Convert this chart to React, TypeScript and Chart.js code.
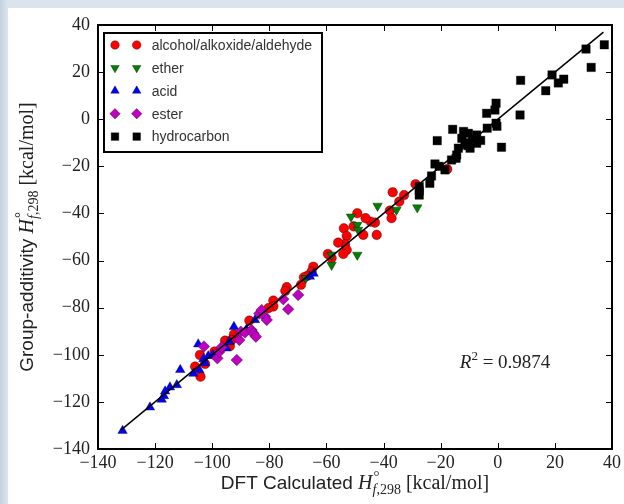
import React, { useEffect, useRef } from 'react';
import { Chart, registerables } from 'chart.js';

Chart.register(...registerables);

// ---------- data ----------
const SERIES_NAMES = ['alcohol/alkoxide/aldehyde', 'ether', 'acid', 'ester', 'hydrocarbon'];

const ALCOHOL_X = [-17.7, -28.8, -36.8, -32.8, -34.5, -37.8, -37.2, -42.4, -43.0, -44.5, -46.3, -49.2, -47.1, -50.5, -53.9, -52.9, -53.5, -55.9, -52.9, -54.1, -58.2, -59.5, -64.6, -65.2, -66.7, -67.9, -68.9, -73.9, -74.4, -78.6, -78.6, -80.3, -87.0, -92.4, -93.8, -95.5, -93.2, -99.2, -104.3, -102.5, -106.0, -104.1];
const ALCOHOL_Y = [-21.2, -27.6, -31.0, -32.2, -35.0, -38.8, -42.0, -49.1, -43.9, -43.5, -42.0, -39.9, -49.1, -45.5, -46.3, -49.6, -53.0, -52.4, -55.5, -57.2, -59.0, -57.2, -62.6, -64.7, -66.5, -67.1, -70.3, -71.3, -72.9, -77.0, -79.5, -80.2, -85.5, -91.3, -96.3, -94.0, -93.7, -98.6, -100.1, -103.9, -105.0, -109.3];

const ETHER_X = [-42.1, -35.5, -28.2, -51.4, -49.2, -48.9, -49.2, -58.2, -58.2, -67.2];
const ETHER_Y = [-36.8, -38.5, -37.5, -41.4, -44.9, -47.0, -57.6, -57.6, -61.9, -67.5];

const ACID_X = [-131.4, -121.8, -117.7, -116.9, -116.5, -114.8, -112.4, -111.2, -106.6, -104.5, -104.9, -103.1, -102.5, -101.4, -99.8, -95.0, -94.0, -92.4, -88.0, -85.0, -65.8, -64.5];
const ACID_Y = [-132.2, -122.3, -119.0, -117.5, -115.5, -113.8, -112.8, -106.4, -108.0, -106.5, -95.5, -101.8, -103.5, -100.5, -100.1, -97.2, -94.4, -88.1, -89.2, -85.2, -66.8, -65.5];

const ESTER_X = [-102.9, -98.2, -97.5, -96.7, -91.4, -90.5, -90.0, -88.5, -86.2, -85.6, -84.7, -83.5, -82.7, -81.5, -80.9, -75.1, -73.4, -69.9];
const ESTER_Y = [-96.5, -101.5, -98.7, -96.8, -102.2, -93.7, -90.2, -90.5, -89.5, -90.9, -92.3, -82.5, -81.0, -83.8, -85.2, -76.4, -80.7, -74.6];

const HYDRO_X = [30.9, 37.3, 32.7, 8.0, 16.8, 19.0, 21.2, 23.1, 7.8, -0.6, -1.0, -3.9, -0.6, -3.7, 1.3, -15.8, -21.2, -10.3, -12.6, -7.4, -7.4, -9.7, -13.8, -14.6, -16.2, -22.0, -18.5, -23.2, -23.8, -27.5, -27.5, -27.5, -14.4, -11.5, -8.8, -20.5, -6.0, -10.5, -12.0, -0.3];
const HYDRO_Y = [29.8, 31.6, 22.0, 16.5, 12.1, 18.8, 15.4, 17.0, 1.8, 6.8, 3.9, 2.5, -1.7, -3.8, -11.9, -4.3, -9.1, -6.0, -8.1, -6.7, -10.2, -12.3, -12.3, -16.6, -17.3, -19.0, -21.5, -24.1, -27.2, -28.6, -32.2, -30.4, -15.2, -10.0, -8.5, -20.0, -9.0, -11.2, -5.2, -3.0];

const FIT_X = [-132, 37];
const FIT_Y = [-132, 37];

const X_TICKS = [-140, -120, -100, -80, -60, -40, -20, 0, 20, 40];
const Y_TICKS = [-140, -120, -100, -80, -60, -40, -20, 0, 20, 40];

const R2_TEXT = '0.9874';
const R2_POS = [-13.3, -105.8];

// ---------- styles ----------
const COLORS = ['#ff0000', '#007f00', '#0000ff', '#bf00bf', '#000000'];
const STYLES = ['circle', 'triangleDown', 'triangle', 'rectRot', 'rect'];
const RADII = [4.8, 5.5, 5.5, 5.8, 6];

const SERIF = '"Liberation Serif", "DejaVu Serif", serif';
const SANS = '"Liberation Sans", Arial, sans-serif';

const W = 616;
const H = 496;

const fmt = (v: number) => (v < 0 ? '\u2212' + Math.abs(v) : String(v));
const pts = (xs: number[], ys: number[]) => xs.map((x, i) => ({ x, y: ys[i] }));

function drawMarker(ctx: CanvasRenderingContext2D, style: string, x: number, y: number, r: number, color: string) {
  ctx.beginPath();
  if (style === 'circle') {
    ctx.arc(x, y, r, 0, Math.PI * 2);
  } else if (style === 'triangle' || style === 'triangleDown') {
    const s = style === 'triangle' ? -1 : 1;
    for (let k = 0; k < 3; k++) {
      const a = (k * 2 * Math.PI) / 3;
      const px = x + Math.sin(a) * r;
      const py = y + s * Math.cos(a) * r;
      if (k === 0) ctx.moveTo(px, py); else ctx.lineTo(px, py);
    }
    ctx.closePath();
  } else if (style === 'rectRot') {
    ctx.moveTo(x, y - r); ctx.lineTo(x + r, y); ctx.lineTo(x, y + r); ctx.lineTo(x - r, y); ctx.closePath();
  } else {
    const h = r * Math.SQRT1_2;
    ctx.rect(x - h, y - h, 2 * h, 2 * h);
  }
  ctx.fillStyle = color;
  ctx.fill();
  ctx.lineWidth = 0.5;
  ctx.strokeStyle = 'rgba(0,0,0,0.7)';
  ctx.stroke();
}

type Run = { t: string; f: string; dy: number; adv?: boolean; dx?: number };

function runsWidth(ctx: CanvasRenderingContext2D, runs: Run[]) {
  let w = 0;
  for (const r of runs) { ctx.font = r.f; if (r.adv !== false) w += ctx.measureText(r.t).width; }
  return w;
}
function drawRuns(ctx: CanvasRenderingContext2D, runs: Run[], cx: number, baseY: number) {
  let x = cx - runsWidth(ctx, runs) / 2;
  ctx.textAlign = 'left';
  ctx.textBaseline = 'alphabetic';
  for (const r of runs) {
    ctx.font = r.f;
    ctx.fillText(r.t, x + (r.dx || 0), baseY + r.dy);
    if (r.adv !== false) x += ctx.measureText(r.t).width;
  }
}

const mathUnit = (): Run[] => [
  { t: 'H', f: `italic 20px ${SERIF}`, dy: 0 },
  { t: '\u00b0', f: `15px ${SERIF}`, dy: -8, adv: false, dx: 1 },
  { t: 'f', f: `italic 14px ${SERIF}`, dy: 5 },
  { t: ',298', f: `14px ${SERIF}`, dy: 5 },
  { t: ' [kcal/mol]', f: `20px ${SERIF}`, dy: 0 },
];

const decorPlugin = {
  id: 'decor',
  afterDatasetsDraw(chart: any) {
    const { ctx, chartArea: a, scales } = chart;
    const xs = scales.x, ys = scales.y;
    ctx.save();
    // inside ticks on all sides
    ctx.strokeStyle = '#000';
    ctx.lineWidth = 1;
    ctx.beginPath();
    for (const v of X_TICKS) {
      const px = Math.round(xs.getPixelForValue(v)) + 0.5;
      ctx.moveTo(px, a.bottom); ctx.lineTo(px, a.bottom - 6);
      ctx.moveTo(px, a.top); ctx.lineTo(px, a.top + 6);
    }
    for (const v of Y_TICKS) {
      const py = Math.round(ys.getPixelForValue(v)) + 0.5;
      ctx.moveTo(a.left, py); ctx.lineTo(a.left + 6, py);
      ctx.moveTo(a.right, py); ctx.lineTo(a.right - 6, py);
    }
    ctx.stroke();
    // frame
    ctx.lineWidth = 2;
    ctx.strokeRect(a.left, a.top, a.right - a.left, a.bottom - a.top);

    // R^2 annotation
    ctx.fillStyle = '#222';
    const rx = xs.getPixelForValue(R2_POS[0]);
    const ry = ys.getPixelForValue(R2_POS[1]);
    const r2runs: Run[] = [
      { t: 'R', f: `italic 19px ${SERIF}`, dy: 0 },
      { t: '2', f: `13px ${SERIF}`, dy: -8 },
      { t: ' = ' + R2_TEXT, f: `19px ${SERIF}`, dy: 0 },
    ];
    const w = runsWidth(ctx, r2runs);
    drawRuns(ctx, r2runs, rx + w / 2, ry);

    // legend
    const lx = a.left + 6, ly = a.top + 8, lw = 218, lh = 119;
    ctx.fillStyle = '#fff';
    ctx.fillRect(lx, ly, lw, lh);
    ctx.lineWidth = 2;
    ctx.strokeStyle = '#000';
    ctx.strokeRect(lx, ly, lw, lh);
    SERIES_NAMES.forEach((name, i) => {
      const cy = ly + 12 + i * 22.9;
      drawMarker(ctx, STYLES[i], lx + 11, cy, RADII[i] * 0.9, COLORS[i]);
      drawMarker(ctx, STYLES[i], lx + 32.7, cy, RADII[i] * 0.9, COLORS[i]);
      ctx.fillStyle = '#333';
      ctx.font = `14px ${SANS}`;
      ctx.textAlign = 'left';
      ctx.textBaseline = 'middle';
      ctx.fillText(name, lx + 47.7, cy + 1);
    });

    // axis titles
    ctx.fillStyle = '#222';
    const xRuns: Run[] = [{ t: 'DFT Calculated ', f: `19px ${SANS}`, dy: 0 }, ...mathUnit()];
    drawRuns(ctx, xRuns, (a.left + a.right) / 2, 481);
    const yRuns: Run[] = [{ t: 'Group-additivity ', f: `19px ${SANS}`, dy: 0 }, ...mathUnit()];
    ctx.save();
    ctx.translate(25, (a.top + a.bottom) / 2);
    ctx.rotate(-Math.PI / 2);
    drawRuns(ctx, yRuns, 0, 0);
    ctx.restore();

    ctx.restore();
  },
};

const datasetsFrom = () => {
  const data = [
    pts(ALCOHOL_X, ALCOHOL_Y),
    pts(ETHER_X, ETHER_Y),
    pts(ACID_X, ACID_Y),
    pts(ESTER_X, ESTER_Y),
    pts(HYDRO_X, HYDRO_Y),
  ];
  const ds: any[] = data.map((d, i) => ({
    label: SERIES_NAMES[i],
    data: d,
    pointStyle: STYLES[i] === 'triangleDown' ? 'triangle' : STYLES[i],
    rotation: STYLES[i] === 'triangleDown' ? 180 : 0,
    pointRadius: RADII[i],
    pointBackgroundColor: COLORS[i],
    pointBorderColor: 'rgba(0,0,0,0.7)',
    pointBorderWidth: 0.5,
    showLine: false,
    order: 5 - i,
  }));
  ds.push({
    label: 'fit',
    data: pts(FIT_X, FIT_Y),
    showLine: true,
    pointRadius: 0,
    borderColor: '#000',
    borderWidth: 1.5,
    order: 0,
  });
  return ds;
};

export default function App() {
  const ref = useRef<HTMLCanvasElement | null>(null);
  useEffect(() => {
    document.body.style.background = 'linear-gradient(to right, #c3d1dd 0px, #dbe4ec 8px, #dbe4ec 100%)';
    document.body.style.overflow = 'hidden';
    const canvas = ref.current;
    if (!canvas) return;
    const tickFont = { family: SERIF, size: 18 };
    const chart = new Chart(canvas, {
      type: 'scatter',
      data: { datasets: datasetsFrom() },
      options: {
        animation: false,
        responsive: true,
        maintainAspectRatio: false,
        layout: { padding: { top: 17, right: 12, left: 0, bottom: 0 } },
        plugins: { legend: { display: false }, tooltip: { enabled: false } },
        scales: {
          x: {
            type: 'linear',
            min: -140,
            max: 40,
            afterBuildTicks: (s: any) => { s.ticks = X_TICKS.map((v) => ({ value: v })); },
            afterFit: (s: any) => { s.height = 55; s.paddingLeft = 0; s.paddingRight = 0; },
            ticks: { font: tickFont, color: '#222', padding: 3, maxRotation: 0, autoSkip: false, callback: (v: any) => fmt(Number(v)) },
            grid: { display: false, drawTicks: false },
            border: { display: false },
          },
          y: {
            type: 'linear',
            min: -140,
            max: 40,
            afterBuildTicks: (s: any) => { s.ticks = Y_TICKS.map((v) => ({ value: v })); },
            afterFit: (s: any) => { s.width = 90; s.paddingTop = 0; s.paddingBottom = 0; },
            ticks: { font: tickFont, color: '#222', padding: 8, autoSkip: false, callback: (v: any) => fmt(Number(v)) },
            grid: { display: false, drawTicks: false },
            border: { display: false },
          },
        },
      },
      plugins: [decorPlugin],
    } as any);
    return () => chart.destroy();
  }, []);
  return (
    <div style={{ position: 'fixed', left: 8, top: 8, width: W, height: H, background: '#fff' }}>
      <canvas ref={ref} />
    </div>
  );
}
